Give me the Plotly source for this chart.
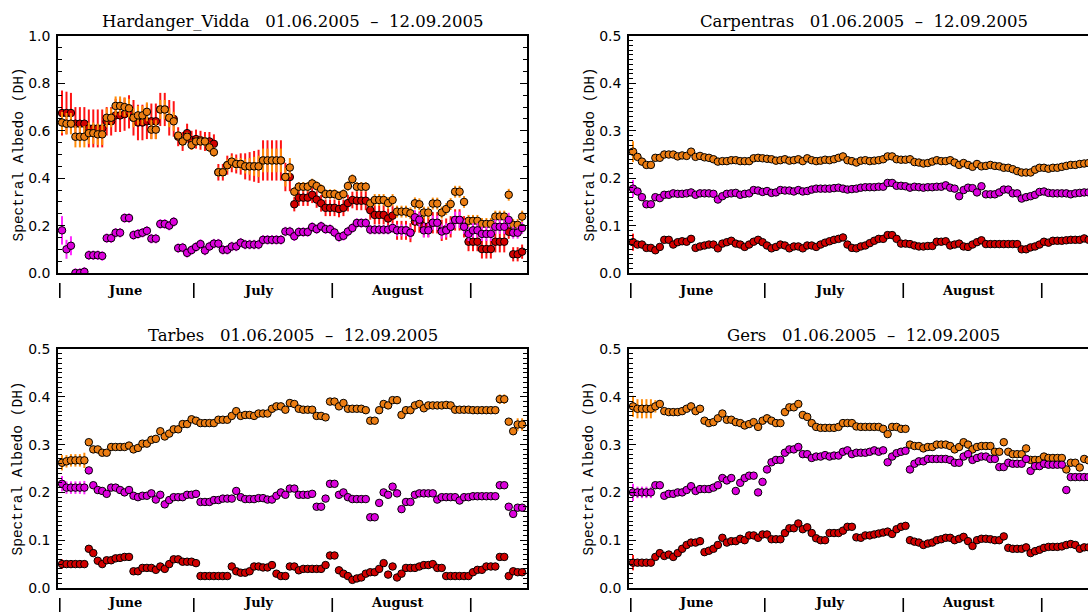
import plotly.graph_objects as go

# ---------------- data (day index 0 = 1 June 2005) ----------------
days = list(range(104))
month_names = ["June", "July", "August"]
month_start = [0, 30, 61, 92]
station_names = ["Hardanger_Vidda", "Carpentras", "Tarbes", "Gers"]
period_text = "01.06.2005  \u2013  12.09.2005"

# Hardanger_Vidda
hv_orange = [0.635,0.63,0.63,0.575,0.575,0.575,0.59,0.59,0.585,0.585,
             0.655,0.655,0.705,0.705,0.70,0.695,0.655,0.665,0.665,0.68,
             0.605,0.605,0.69,0.69,0.655,0.64,0.58,0.555,0.575,0.54,
             0.555,0.555,0.555,0.53,0.51,0.425,0.425,0.455,0.47,0.46,
             0.46,0.45,0.45,0.45,0.45,0.475,0.475,0.475,0.475,0.475,
             0.405,0.445,0.343,0.364,0.364,0.364,0.378,0.367,0.354,0.333,
             0.333,0.333,0.325,0.333,0.367,0.396,0.364,0.364,0.364,0.294,
             0.308,0.308,0.308,0.295,0.308,0.259,0.259,0.259,0.252,0.294,
             0.29,0.255,0.255,0.293,0.293,0.255,0.27,0.291,0.343,0.343,
             0.30,0.22,0.22,0.22,0.207,0.207,0.207,0.238,0.238,0.238,
             0.33,0.203,0.203,0.238]
hv_red = [0.675,0.675,0.675,0.63,0.63,0.63,0.61,0.61,0.61,0.61,
          0.64,0.64,0.665,0.665,0.67,0.68,0.655,0.635,0.635,0.64,
          0.64,0.64,0.69,0.69,0.655,0.65,0.575,0.555,0.59,0.56,
          0.565,0.56,0.555,0.555,0.545,0.425,0.425,0.455,0.465,0.46,
          0.46,0.45,0.45,0.45,0.45,0.475,0.475,0.475,0.475,0.475,
          0.405,0.405,0.29,0.318,0.318,0.318,0.33,0.31,0.294,0.275,
          0.275,0.275,0.27,0.275,0.295,0.308,0.305,0.305,0.305,0.265,
          0.245,0.245,0.245,0.23,0.242,0.18,0.18,0.18,0.17,0.217,
          0.215,0.196,0.196,0.212,0.212,0.18,0.185,0.195,0.224,0.224,
          0.195,0.132,0.132,0.132,0.101,0.101,0.101,0.132,0.132,0.132,
          0.174,0.079,0.079,0.09]
hv_magenta = [0.18,0.10,0.115,0.0,0.0,0.005,0.075,0.075,0.075,0.072,
              0.147,0.147,0.17,0.17,0.232,0.232,0.16,0.165,0.17,0.178,
              0.145,0.145,0.207,0.207,0.2,0.216,0.105,0.107,0.085,0.097,
              0.11,0.122,0.095,0.112,0.124,0.124,0.098,0.098,0.112,0.112,
              0.128,0.12,0.12,0.12,0.12,0.14,0.14,0.14,0.14,0.14,
              0.175,0.175,0.155,0.173,0.173,0.173,0.194,0.185,0.197,0.185,
              0.185,0.171,0.152,0.157,0.175,0.19,0.211,0.211,0.211,0.183,
              0.183,0.183,0.183,0.183,0.19,0.18,0.18,0.18,0.17,0.235,
              0.225,0.18,0.18,0.212,0.212,0.175,0.18,0.195,0.224,0.224,
              0.195,0.165,0.18,0.18,0.165,0.165,0.165,0.195,0.195,0.195,
              0.224,0.17,0.17,0.19]
hv_orange_err = [0.045,0.045,0.045,0.045,0.045,0.045,0.045,0.045,0.045,0.045,
                 0.04,0.04,0.04,0.04,0.04,0.04,0.04,0.04,0.04,0.04,
                 0.04,0.04,0.04,0.04,0.04,0.04,0.02,0.02,0.02,0.02,
                 0.02,0.02,0.02,0.02,0.02,0.02,0.02,0.025,0.025,0.025,
                 0.025,0.03,0.035,0.04,0.045,0.05,0.05,0.05,0.05,0.05,
                 0.04,0.04,0.02,0.02,0.02,0.02,0.02,0.02,0.02,0.02,
                 0.02,0.02,0.02,0.02,0.02,0.02,0.02,0.02,0.02,0.02,
                 0.025,0.025,0.025,0.025,0.025,0.025,0.025,0.025,0.025,0.025,
                 0.025,0.025,0.025,0.025,0.025,0.025,0.025,0.025,0.025,0.025,
                 0.025,0.025,0.025,0.025,0.025,0.025,0.025,0.025,0.025,0.025,
                 0.025,0.025,0.025,0.025]
hv_red_err = [0.095,0.09,0.085,0.07,0.07,0.07,0.08,0.08,0.08,0.08,
              0.06,0.06,0.07,0.07,0.07,0.07,0.075,0.075,0.075,0.075,
              0.075,0.075,0.07,0.07,0.075,0.075,0.04,0.04,0.04,0.04,
              0.04,0.04,0.04,0.04,0.04,0.035,0.035,0.04,0.04,0.04,
              0.045,0.055,0.06,0.065,0.07,0.085,0.085,0.085,0.085,0.085,
              0.06,0.06,0.03,0.035,0.035,0.035,0.035,0.035,0.035,0.035,
              0.035,0.035,0.035,0.035,0.035,0.035,0.04,0.04,0.04,0.04,
              0.04,0.04,0.04,0.04,0.04,0.04,0.04,0.04,0.04,0.045,
              0.045,0.045,0.045,0.045,0.045,0.045,0.045,0.045,0.045,0.045,
              0.045,0.04,0.04,0.04,0.04,0.04,0.04,0.045,0.045,0.045,
              0.03,0.03,0.03,0.03]
hv_magenta_err = [0.06,0.04,0.04,0.02,0.02,0.02,0.02,0.02,0.02,0.02,
                  0.02,0.02,0.02,0.02,0.02,0.02,0.02,0.02,0.02,0.02,
                  0.02,0.02,0.02,0.02,0.02,0.02,0.02,0.02,0.02,0.02,
                  0.02,0.02,0.02,0.02,0.02,0.02,0.02,0.02,0.02,0.02,
                  0.02,0.02,0.02,0.02,0.02,0.02,0.02,0.02,0.02,0.02,
                  0.02,0.02,0.02,0.02,0.02,0.02,0.02,0.02,0.02,0.02,
                  0.02,0.02,0.02,0.02,0.02,0.02,0.02,0.02,0.02,0.02,
                  0.02,0.02,0.02,0.02,0.02,0.025,0.025,0.025,0.025,0.03,
                  0.03,0.03,0.03,0.03,0.03,0.03,0.03,0.03,0.035,0.035,
                  0.03,0.03,0.03,0.03,0.03,0.03,0.03,0.03,0.03,0.03,
                  0.03,0.025,0.025,0.025]
hv_flag_days = [0,1,3,4,5,6,7,10,11,12,13,14,15,16,20,21,22,23,26,28,30,31,32,34,35,50]

# Carpentras
cp_orange = [0.256,0.245,0.235,0.228,0.228,0.243,0.243,0.25,0.25,0.25,
             0.246,0.248,0.247,0.256,0.245,0.247,0.244,0.243,0.24,0.235,
             0.236,0.236,0.238,0.238,0.236,0.236,0.236,0.242,0.243,0.242,
             0.241,0.24,0.237,0.238,0.24,0.237,0.238,0.24,0.236,0.242,
             0.238,0.236,0.237,0.239,0.238,0.24,0.243,0.246,0.238,0.236,
             0.233,0.237,0.238,0.236,0.237,0.238,0.24,0.246,0.246,0.24,
             0.239,0.239,0.24,0.234,0.233,0.231,0.232,0.235,0.238,0.236,
             0.236,0.238,0.233,0.228,0.232,0.228,0.224,0.23,0.225,0.226,
             0.228,0.226,0.225,0.222,0.222,0.219,0.215,0.212,0.212,0.212,
             0.218,0.222,0.222,0.22,0.222,0.222,0.224,0.226,0.228,0.228,
             0.23,0.231,0.232,0.232]
cp_magenta = [0.178,0.172,0.16,0.145,0.145,0.16,0.158,0.165,0.165,0.168,
              0.167,0.167,0.168,0.17,0.165,0.168,0.168,0.168,0.167,0.155,
              0.162,0.167,0.168,0.169,0.165,0.167,0.168,0.175,0.174,0.171,
              0.173,0.169,0.17,0.175,0.174,0.174,0.172,0.175,0.172,0.173,
              0.176,0.178,0.178,0.178,0.178,0.179,0.18,0.178,0.176,0.177,
              0.178,0.18,0.181,0.181,0.181,0.182,0.182,0.19,0.19,0.184,
              0.184,0.183,0.18,0.182,0.181,0.18,0.181,0.181,0.182,0.182,
              0.185,0.18,0.178,0.162,0.175,0.18,0.179,0.17,0.183,0.166,
              0.166,0.166,0.17,0.176,0.176,0.168,0.168,0.157,0.16,0.162,
              0.165,0.171,0.172,0.169,0.168,0.168,0.168,0.168,0.166,0.168,
              0.169,0.17,0.17,0.17]
cp_red = [0.065,0.06,0.06,0.053,0.053,0.048,0.055,0.07,0.07,0.06,
          0.065,0.067,0.066,0.072,0.053,0.056,0.058,0.06,0.06,0.052,
          0.062,0.065,0.068,0.062,0.06,0.055,0.06,0.066,0.07,0.065,
          0.058,0.052,0.055,0.06,0.058,0.052,0.056,0.056,0.052,0.058,
          0.058,0.055,0.06,0.064,0.067,0.07,0.072,0.075,0.06,0.053,
          0.052,0.056,0.058,0.063,0.068,0.072,0.072,0.08,0.08,0.072,
          0.062,0.062,0.061,0.058,0.056,0.056,0.057,0.057,0.066,0.066,
          0.067,0.058,0.06,0.062,0.056,0.055,0.06,0.065,0.069,0.061,
          0.061,0.061,0.061,0.061,0.061,0.061,0.061,0.05,0.05,0.054,
          0.056,0.06,0.066,0.064,0.068,0.068,0.068,0.069,0.07,0.07,
          0.07,0.073,0.07,0.07]
cp_orange_err = {0: 0.022}
cp_red_err = {0: 0.018}
cp_magenta_err = {0: 0.018}

# Tarbes
tb_orange = [0.262,0.265,0.267,0.267,0.267,0.267,0.305,0.29,0.29,0.283,
             0.283,0.295,0.295,0.295,0.295,0.298,0.29,0.293,0.302,0.302,
             0.31,0.312,0.328,0.317,0.323,0.332,0.332,0.343,0.343,0.353,
             0.35,0.345,0.345,0.345,0.345,0.352,0.352,0.352,0.36,0.37,
             0.36,0.362,0.362,0.36,0.365,0.365,0.365,0.375,0.38,0.38,
             0.373,0.387,0.385,0.375,0.373,0.373,0.373,0.36,0.36,0.357,
             0.39,0.39,0.38,0.387,0.375,0.375,0.375,0.375,0.372,0.35,
             0.35,0.372,0.385,0.382,0.393,0.393,0.362,0.372,0.372,0.382,
             0.385,0.376,0.382,0.382,0.382,0.382,0.383,0.382,0.373,0.373,
             0.373,0.373,0.372,0.372,0.372,0.372,0.372,0.372,0.395,0.395,
             0.348,0.328,0.342,0.342]
tb_magenta = [0.218,0.21,0.21,0.21,0.21,0.21,0.246,0.215,0.205,0.203,
              0.197,0.21,0.21,0.205,0.2,0.205,0.193,0.19,0.193,0.193,
              0.198,0.185,0.195,0.175,0.184,0.19,0.19,0.19,0.195,0.195,
              0.197,0.18,0.18,0.18,0.184,0.184,0.187,0.187,0.187,0.203,
              0.19,0.186,0.186,0.186,0.188,0.188,0.185,0.185,0.193,0.2,
              0.195,0.208,0.208,0.195,0.195,0.195,0.197,0.17,0.17,0.187,
              0.218,0.218,0.195,0.2,0.19,0.186,0.186,0.186,0.186,0.148,
              0.148,0.178,0.2,0.195,0.212,0.198,0.165,0.18,0.18,0.195,
              0.198,0.198,0.198,0.198,0.185,0.19,0.19,0.19,0.19,0.183,
              0.19,0.19,0.192,0.192,0.192,0.192,0.192,0.192,0.215,0.215,
              0.17,0.155,0.168,0.168]
tb_red = [0.05,0.05,0.05,0.05,0.05,0.05,0.082,0.073,0.057,0.05,
          0.058,0.058,0.062,0.063,0.065,0.065,0.035,0.035,0.042,0.042,
          0.042,0.038,0.045,0.04,0.05,0.06,0.06,0.055,0.055,0.055,
          0.052,0.025,0.025,0.025,0.025,0.025,0.025,0.025,0.045,0.035,
          0.032,0.032,0.035,0.045,0.045,0.043,0.043,0.048,0.03,0.025,
          0.025,0.045,0.045,0.037,0.04,0.04,0.04,0.04,0.04,0.048,
          0.068,0.068,0.037,0.03,0.025,0.017,0.02,0.022,0.03,0.033,
          0.033,0.04,0.052,0.028,0.045,0.022,0.03,0.042,0.042,0.042,
          0.045,0.048,0.048,0.05,0.042,0.042,0.025,0.025,0.025,0.025,
          0.025,0.025,0.033,0.038,0.038,0.045,0.045,0.045,0.065,0.065,
          0.025,0.035,0.033,0.033]
tb_orange_err = {0: 0.016, 1: 0.013, 2: 0.013, 3: 0.013, 4: 0.013, 5: 0.016,
                 98: 0.01, 99: 0.01, 102: 0.013, 103: 0.013}
tb_red_err = {0: 0.01}
tb_magenta_err = {0: 0.016, 1: 0.013, 2: 0.013, 3: 0.013, 4: 0.013, 5: 0.014}

# Gers
gs_orange = [0.38,0.375,0.375,0.375,0.375,0.38,0.385,0.37,0.368,0.368,
             0.368,0.37,0.375,0.38,0.37,0.375,0.35,0.345,0.347,0.355,
             0.365,0.352,0.352,0.347,0.345,0.34,0.343,0.347,0.337,0.35,
             0.355,0.35,0.345,0.345,0.368,0.378,0.378,0.385,0.362,0.358,
             0.345,0.337,0.335,0.335,0.335,0.335,0.337,0.345,0.345,0.345,
             0.338,0.337,0.337,0.337,0.337,0.337,0.333,0.322,0.337,0.337,
             0.333,0.333,0.3,0.297,0.297,0.292,0.295,0.295,0.3,0.3,
             0.3,0.297,0.29,0.295,0.305,0.3,0.29,0.295,0.297,0.297,
             0.297,0.285,0.285,0.305,0.285,0.28,0.28,0.28,0.292,0.268,
             0.268,0.268,0.275,0.272,0.272,0.272,0.272,0.248,0.262,0.262,
             0.252,0.27,0.267,0.267]
gs_magenta = [0.2,0.2,0.2,0.2,0.2,0.215,0.215,0.193,0.197,0.197,
              0.2,0.2,0.205,0.213,0.203,0.207,0.207,0.207,0.21,0.215,
              0.23,0.225,0.23,0.203,0.22,0.23,0.235,0.235,0.2,0.222,
              0.248,0.263,0.268,0.268,0.283,0.29,0.29,0.295,0.28,0.28,
              0.272,0.275,0.275,0.278,0.275,0.277,0.277,0.285,0.288,0.28,
              0.283,0.283,0.283,0.285,0.288,0.285,0.288,0.263,0.275,0.282,
              0.285,0.287,0.248,0.26,0.265,0.265,0.27,0.27,0.27,0.27,
              0.27,0.268,0.262,0.262,0.275,0.28,0.268,0.272,0.275,0.275,
              0.27,0.27,0.253,0.253,0.262,0.26,0.26,0.26,0.27,0.245,
              0.255,0.255,0.26,0.258,0.258,0.258,0.258,0.205,0.232,0.232,
              0.232,0.232,0.232,0.232]
gs_red = [0.053,0.053,0.053,0.053,0.053,0.065,0.073,0.067,0.07,0.065,
          0.073,0.082,0.09,0.095,0.095,0.098,0.075,0.078,0.082,0.09,
          0.105,0.095,0.098,0.098,0.103,0.1,0.11,0.11,0.105,0.112,
          0.112,0.102,0.102,0.102,0.115,0.125,0.125,0.135,0.123,0.127,
          0.115,0.104,0.1,0.1,0.115,0.115,0.115,0.12,0.128,0.128,
          0.106,0.105,0.11,0.11,0.112,0.114,0.116,0.118,0.113,0.123,
          0.128,0.13,0.1,0.097,0.095,0.09,0.093,0.095,0.1,0.102,
          0.105,0.105,0.1,0.103,0.107,0.098,0.088,0.1,0.103,0.103,
          0.102,0.1,0.1,0.108,0.084,0.082,0.082,0.082,0.085,0.073,
          0.077,0.08,0.084,0.086,0.086,0.086,0.087,0.09,0.092,0.09,
          0.082,0.085,0.085,0.085]
gs_orange_err = {0: 0.022, 1: 0.02, 2: 0.02, 3: 0.02, 4: 0.02, 5: 0.013}
gs_red_err = {0: 0.016}
gs_magenta_err = {0: 0.018, 1: 0.012, 2: 0.012, 3: 0.012, 4: 0.012}

# ---------------- styling ----------------
W, H = 1088, 612
FILL = {"red": "#D20000", "orange": "#EC7D12", "magenta": "#DC00DC"}
BAR = {"red": "#FF1414", "orange": "#FF8C0A", "magenta": "#FF28FF"}
x_noon = [d + 0.5 for d in days]
PX_PER_DAY = 4.467


def dense(err):
    if isinstance(err, dict):
        return [err.get(d, 0.0) for d in days]
    return err


panels = [
    dict(name=station_names[0], y=(hv_red, hv_orange, hv_magenta),
         e=(hv_red_err, hv_orange_err, hv_magenta_err),
         frame=(58, 527, 36, 273), yr=[0, 1.0], dt=0.2, mdt=0.05, cut=False, lab=17.5),
    dict(name=station_names[1], y=(cp_red, cp_orange, cp_magenta),
         e=(cp_red_err, cp_orange_err, cp_magenta_err),
         frame=(629, 1098, 36, 273), yr=[0, 0.5], dt=0.1, mdt=0.01, cut=True, lab=17.5),
    dict(name=station_names[2], y=(tb_red, tb_orange, tb_magenta),
         e=(tb_red_err, tb_orange_err, tb_magenta_err),
         frame=(58, 527, 349, 588), yr=[0, 0.5], dt=0.1, mdt=0.01, cut=False, lab=14.5),
    dict(name=station_names[3], y=(gs_red, gs_orange, gs_magenta),
         e=(gs_red_err, gs_orange_err, gs_magenta_err),
         frame=(629, 1098, 349, 588), yr=[0, 0.5], dt=0.1, mdt=0.01, cut=True, lab=14.5),
]

fig = go.Figure()
shapes, annotations = [], []
tick_font = dict(family="DejaVu Sans", size=14, color="black")

for i, p in enumerate(panels):
    k = "" if i == 0 else str(i + 1)
    xa, ya = "x" + k, "y" + k
    left, right, top, bottom = p["frame"]
    vis_right = min(right, W)
    x0 = -0.4
    x1 = x0 + (vis_right - left) / PX_PER_DAY
    for col, yy, ee in zip(("red", "orange", "magenta"), p["y"], p["e"]):
        fig.add_trace(go.Scatter(
            x=x_noon, y=yy, mode="markers", xaxis=xa, yaxis=ya,
            marker=dict(size=7.5, color=FILL[col], line=dict(color="black", width=1)),
            error_y=dict(type="data", array=dense(ee), visible=True,
                         color=BAR[col], thickness=2, width=0),
            showlegend=False, hoverinfo="skip"))
    fig.layout["xaxis" + k] = dict(
        domain=[left / W, vis_right / W], range=[x0, x1], anchor=ya,
        showticklabels=False, ticks="", showline=True, linecolor="black",
        linewidth=1.5, mirror=True, showgrid=False, zeroline=False,
        fixedrange=True, automargin=False)
    fig.layout["yaxis" + k] = dict(
        domain=[1 - bottom / H, 1 - top / H], range=p["yr"], anchor=xa,
        tick0=0, dtick=p["dt"], tickformat=".1f", ticks="inside", ticklen=7,
        tickwidth=1.2, tickcolor="black", showline=True, linecolor="black",
        linewidth=1.5, mirror=(False if p["cut"] else "ticks"), showgrid=False,
        zeroline=False, tickfont=tick_font, ticklabelstandoff=3, fixedrange=True,
        automargin=False,
        minor=dict(tick0=0, dtick=p["mdt"], ticks="inside", ticklen=4,
                   tickwidth=1, tickcolor="black", showgrid=False))
    annotations.append(dict(
        text=p["name"] + "\u00a0\u00a0\u00a0" + period_text.replace(" ", "\u00a0"),
        xref="paper", yref="paper", x=(left + right) / 2 / W, y=1 - (top - 14) / H,
        xanchor="center", yanchor="middle", showarrow=False,
        font=dict(family="DejaVu Serif", size=16.5, color="black")))
    annotations.append(dict(
        text="Spectral Albedo (DH)", xref="paper", yref="paper",
        x=(left - 40) / W, y=1 - (top + bottom) / 2 / H, textangle=-90,
        xanchor="center", yanchor="middle", showarrow=False,
        font=dict(family="Liberation Mono", size=14.5, color="black")))
    for ms in month_start:
        shapes.append(dict(type="line", xref=xa, yref="paper", x0=ms, x1=ms,
                           y0=1 - (bottom + 10) / H, y1=1 - (bottom + 25) / H,
                           line=dict(color="black", width=1.6)))
    for name, ms in zip(month_names, month_start):
        annotations.append(dict(
            text="<b>" + name + "</b>", xref=xa, yref="paper", x=ms + 14.5,
            y=1 - (bottom + p["lab"]) / H, xanchor="center", yanchor="middle",
            showarrow=False, font=dict(family="DejaVu Serif", size=13, color="black")))

flag_y = -0.03
fig.add_trace(go.Scatter(
    x=[d + 0.5 for d in hv_flag_days], y=[flag_y] * len(hv_flag_days),
    mode="markers", xaxis="x", yaxis="y", cliponaxis=False,
    marker=dict(symbol="x", size=6, color="#1E1EFF", line=dict(width=0)),
    showlegend=False, hoverinfo="skip"))

fig.update_layout(
    width=W, height=H, margin=dict(l=0, r=0, t=0, b=0, pad=0, autoexpand=False),
    paper_bgcolor="white", plot_bgcolor="white",
    shapes=shapes, annotations=annotations)

fig.write_html("out.html", include_plotlyjs=True, full_html=True,
               config={"displayModeBar": False})
